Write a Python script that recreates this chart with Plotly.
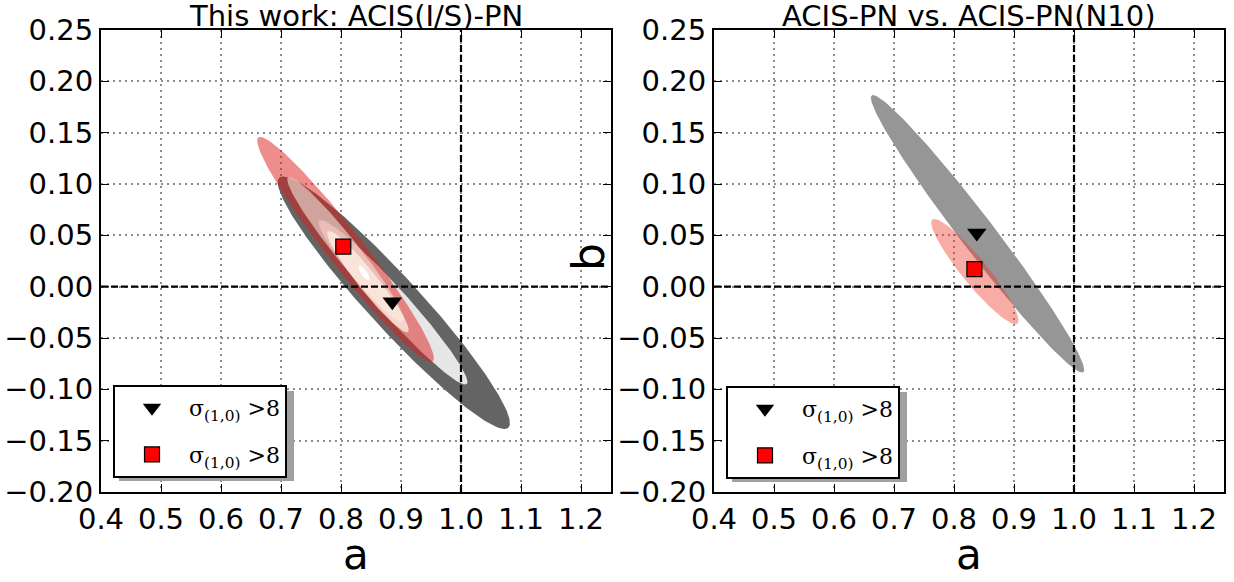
import numpy as np
import plotly.graph_objects as go

# ---------------- data ----------------
x_ticks = [0.4, 0.5, 0.6, 0.7, 0.8, 0.9, 1.0, 1.1, 1.2]
y_ticks = [-0.20, -0.15, -0.10, -0.05, 0.00, 0.05, 0.10, 0.15, 0.20, 0.25]
x_range = [0.4, 1.25]
y_range = [-0.20, 0.25]
ref_a = 1.0
ref_b = 0.0

titles = ["This work: ACIS(I/S)-PN", "ACIS-PN vs. ACIS-PN(N10)"]
legend_label = "σ<sub>(1,0)</sub> >8"

# best-fit points (a, b)
left_tri_a, left_tri_b = [0.8855], [-0.0147]
left_sq_a, left_sq_b = [0.8038], [0.039]
right_tri_a, right_tri_b = [0.838], [0.0523]
right_sq_a, right_sq_b = [0.834], [0.017]

# confidence ellipses: centre, half-major vector (data units), minor/major ratio
left_ell_cx = [0.888, 0.8867, 0.8075, 0.8075, 0.845, 0.8383]
left_ell_cy = [-0.0156, -0.0152, 0.0363, 0.0363, 0.005, 0.0132]
left_ell_ux = [0.1908, 0.1228, 0.1453, 0.0958, 0.0667, 0.0083]
left_ell_uy = [-0.1218, -0.0796, -0.1091, -0.0701, -0.049, -0.0069]
left_ell_ratio = [0.154, 0.128, 0.127, 0.13, 0.15, 0.33]
left_ell_color = ["rgb(100,100,100)", "rgb(230,230,230)", "rgba(221,30,25,0.5)",
                  "rgba(240,230,220,0.6)", "rgba(255,240,230,0.75)", "rgb(255,255,255)"]

right_ell_cx = [0.8392, 0.8347]
right_ell_cy = [0.0515, 0.0147]
right_ell_ux = [0.1763, 0.0708]
right_ell_uy = [-0.1348, -0.0507]
right_ell_ratio = [0.098, 0.19]
right_ell_color = ["rgb(150,150,150)", "rgba(235,60,40,0.42)"]

# ---------------- layout geometry ----------------
W, H = 1234, 582
left_dom = [101 / W, 611 / W]
right_dom = [714 / W, 1224 / W]
y_dom = [1 - 492 / H, 1 - 30 / H]
px_per_x = (left_dom[1] - left_dom[0]) * W / (x_range[1] - x_range[0])
px_per_y = (y_dom[1] - y_dom[0]) * H / (y_range[1] - y_range[0])
K = px_per_y / px_per_x


def ellipse(cx, cy, ux, uy, ratio, n=200):
    t = np.linspace(0, 2 * np.pi, n)
    vx = -uy * K * ratio
    vy = ux * ratio / K
    return cx + ux * np.cos(t) + vx * np.sin(t), cy + uy * np.cos(t) + vy * np.sin(t)


fig = go.Figure()

for cx, cy, ux, uy, r, c in zip(left_ell_cx, left_ell_cy, left_ell_ux, left_ell_uy,
                                 left_ell_ratio, left_ell_color):
    ex, ey = ellipse(cx, cy, ux, uy, r)
    fig.add_trace(go.Scatter(x=ex, y=ey, mode="lines", fill="toself", fillcolor=c,
                             line=dict(width=0), hoverinfo="skip", showlegend=False,
                             xaxis="x", yaxis="y"))

for cx, cy, ux, uy, r, c in zip(right_ell_cx, right_ell_cy, right_ell_ux, right_ell_uy,
                                 right_ell_ratio, right_ell_color):
    ex, ey = ellipse(cx, cy, ux, uy, r)
    fig.add_trace(go.Scatter(x=ex, y=ey, mode="lines", fill="toself", fillcolor=c,
                             line=dict(width=0), hoverinfo="skip", showlegend=False,
                             xaxis="x2", yaxis="y2"))

# reference lines
for xa, ya in (("x", "y"), ("x2", "y2")):
    fig.add_trace(go.Scatter(x=[ref_a, ref_a], y=y_range, mode="lines",
                             line=dict(color="black", width=2.2, dash="7px,3px"),
                             hoverinfo="skip", showlegend=False, xaxis=xa, yaxis=ya))
    fig.add_trace(go.Scatter(x=x_range, y=[ref_b, ref_b], mode="lines",
                             line=dict(color="black", width=2.2, dash="7px,3px"),
                             hoverinfo="skip", showlegend=False, xaxis=xa, yaxis=ya))

tri = dict(symbol="triangle-down", size=17, color="black", line=dict(width=0))
sq = dict(symbol="square", size=15, color="red", line=dict(width=1.2, color="black"))

fig.add_trace(go.Scatter(x=left_tri_a, y=left_tri_b, mode="markers", marker=tri,
                         name=legend_label, xaxis="x", yaxis="y", legend="legend",
                         legendgroup="l1"))
fig.add_trace(go.Scatter(x=left_sq_a, y=left_sq_b, mode="markers", marker=sq,
                         name=legend_label, xaxis="x", yaxis="y", legend="legend",
                         legendgroup="l2"))
fig.add_trace(go.Scatter(x=right_tri_a, y=right_tri_b, mode="markers", marker=tri,
                         name=legend_label, xaxis="x2", yaxis="y2", legend="legend2",
                         legendgroup="r1"))
fig.add_trace(go.Scatter(x=right_sq_a, y=right_sq_b, mode="markers", marker=sq,
                         name=legend_label, xaxis="x2", yaxis="y2", legend="legend2",
                         legendgroup="r2"))

tickfont = dict(family="DejaVu Sans", size=29, color="black")
axis_common = dict(showline=True, linecolor="black", linewidth=2, mirror="ticks",
                   ticks="inside", ticklen=8, tickwidth=1, tickcolor="black",
                   showgrid=True, gridcolor="rgb(140,140,140)", gridwidth=2,
                   griddash="2px,4px", zeroline=False, tickfont=tickfont,
                   fixedrange=True, automargin=False)

leg_common = dict(xanchor="left", yanchor="top", bgcolor="white", bordercolor="black",
                  borderwidth=2, font=dict(family="DejaVu Serif", size=22, color="black"),
                  itemwidth=64, tracegroupgap=15)

fig.update_layout(
    width=W, height=H, margin=dict(l=0, r=0, t=0, b=0, autoexpand=False),
    paper_bgcolor="white", plot_bgcolor="white",
    xaxis=dict(domain=left_dom, range=x_range, tickvals=x_ticks, tickformat=".1f",
               anchor="y", **axis_common),
    yaxis=dict(domain=y_dom, range=y_range, tickvals=y_ticks, tickformat=".2f",
               anchor="x", **axis_common),
    xaxis2=dict(domain=right_dom, range=x_range, tickvals=x_ticks, tickformat=".1f",
                anchor="y2", **axis_common),
    yaxis2=dict(domain=y_dom, range=y_range, tickvals=y_ticks, tickformat=".2f",
                anchor="x2", **axis_common),
    legend=dict(x=113 / W, y=1 - 385 / H, **leg_common),
    legend2=dict(x=726 / W, y=1 - 386 / H, **leg_common),
)

# legend shadows
LW, LH = 175, 90
for x0, y0 in ((113, 385), (726, 386)):
    fig.add_shape(type="rect", xref="paper", yref="paper",
                  x0=(x0 + 6) / W, x1=(x0 + LW + 6) / W,
                  y0=1 - (y0 + LH + 6) / H, y1=1 - (y0 + 6) / H,
                  fillcolor="rgb(160,160,160)", line=dict(width=0), layer="above")

# titles and axis labels
centers = [(left_dom[0] + left_dom[1]) / 2, (right_dom[0] + right_dom[1]) / 2]
for cx, t in zip(centers, titles):
    fig.add_annotation(x=cx, y=1 - 30 / H, xref="paper", yref="paper", text=t,
                       showarrow=False, xanchor="center", yanchor="bottom",
                       yshift=-5, font=dict(family="DejaVu Sans", size=29, color="black"))
    fig.add_annotation(x=cx, y=1 - 554 / H, xref="paper", yref="paper", text="a",
                       showarrow=False, xanchor="center", yanchor="middle",
                       font=dict(family="DejaVu Sans", size=42, color="black"))
fig.add_annotation(x=588 / W, y=1 - 257 / H, xref="paper", yref="paper", text="b",
                   showarrow=False, textangle=-90, xanchor="center", yanchor="middle",
                   font=dict(family="DejaVu Sans", size=44, color="black"))

fig.write_html("out.html", config={"displayModeBar": False},
               post_script="document.body.style.margin='0';document.body.style.padding='0';")
